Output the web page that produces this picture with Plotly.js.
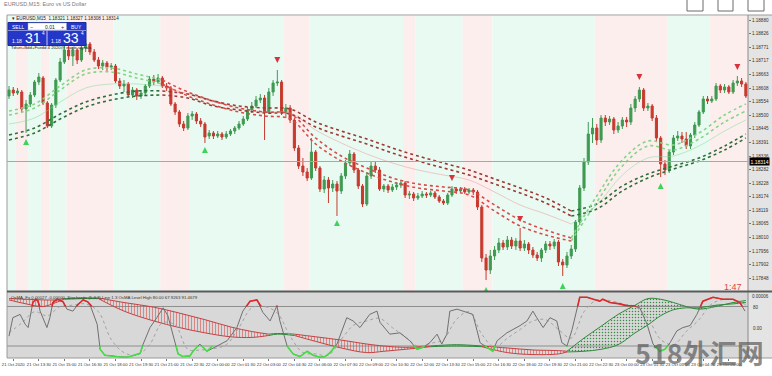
<!DOCTYPE html>
<html><head><meta charset="utf-8">
<script src="https://cdn.plot.ly/plotly-3.0.1.min.js"></script>
<style>html,body{margin:0;padding:0;background:#fff;}#chart{width:772px;height:376px;}</style>
</head><body><div id="chart"></div>
<script>
// ---------- candles (EURUSD M15), bar index 0..173 ----------
const openP = [1.18576,1.18600,1.18588,1.18592,1.18524,1.18544,1.18580,1.18632,1.18648,1.18548,
1.18456,1.18540,1.18640,1.18712,1.18760,1.18736,1.18760,1.18720,1.18768,1.18784,
1.18752,1.18720,1.18696,1.18708,1.18692,1.18696,1.18636,1.18616,1.18624,1.18580,
1.18600,1.18576,1.18588,1.18616,1.18644,1.18632,1.18648,1.18616,1.18608,1.18544,
1.18512,1.18464,1.18448,1.18496,1.18504,1.18476,1.18464,1.18416,1.18428,1.18416,
1.18424,1.18412,1.18424,1.18436,1.18448,1.18464,1.18484,1.18520,1.18536,1.18560,
1.18568,1.18512,1.18592,1.18628,1.18632,1.18512,1.18528,1.18480,1.18368,1.18296,
1.18272,1.18248,1.18352,1.18288,1.18204,1.18240,1.18208,1.18224,1.18196,1.18256,
1.18308,1.18344,1.18280,1.18216,1.18144,1.18256,1.18296,1.18280,1.18204,1.18216,
1.18200,1.18212,1.18220,1.18228,1.18180,1.18184,1.18168,1.18176,1.18184,1.18180,
1.18188,1.18172,1.18156,1.18148,1.18180,1.18204,1.18196,1.18204,1.18192,1.18200,
1.18192,1.18132,1.17928,1.17880,1.17936,1.17960,1.17988,1.17972,1.18000,1.17976,
1.17996,1.17968,1.17984,1.17960,1.17940,1.17928,1.17960,1.17984,1.17976,1.17992,
1.17912,1.17900,1.17936,1.17964,1.18072,1.18208,1.18312,1.18424,1.18448,1.18400,
1.18488,1.18472,1.18484,1.18440,1.18456,1.18480,1.18472,1.18528,1.18564,1.18600,
1.18528,1.18536,1.18488,1.18408,1.18304,1.18280,1.18352,1.18408,1.18416,1.18404,
1.18376,1.18420,1.18460,1.18512,1.18564,1.18556,1.18564,1.18616,1.18600,1.18612,
1.18592,1.18628,1.18636,1.18624];
const closeP = [1.18600,1.18588,1.18596,1.18524,1.18544,1.18580,1.18632,1.18652,1.18548,1.18456,
1.18540,1.18640,1.18712,1.18760,1.18736,1.18760,1.18720,1.18768,1.18784,1.18752,
1.18720,1.18696,1.18708,1.18692,1.18696,1.18636,1.18616,1.18624,1.18580,1.18600,
1.18576,1.18588,1.18616,1.18644,1.18632,1.18648,1.18616,1.18608,1.18544,1.18512,
1.18464,1.18448,1.18496,1.18504,1.18476,1.18464,1.18412,1.18428,1.18416,1.18424,
1.18412,1.18424,1.18436,1.18448,1.18464,1.18484,1.18520,1.18536,1.18560,1.18568,
1.18512,1.18592,1.18628,1.18632,1.18512,1.18528,1.18480,1.18368,1.18296,1.18272,
1.18248,1.18352,1.18288,1.18204,1.18240,1.18208,1.18224,1.18196,1.18256,1.18308,
1.18344,1.18280,1.18216,1.18144,1.18256,1.18296,1.18280,1.18204,1.18216,1.18200,
1.18212,1.18220,1.18228,1.18180,1.18184,1.18168,1.18176,1.18184,1.18180,1.18188,
1.18172,1.18156,1.18148,1.18180,1.18204,1.18196,1.18204,1.18192,1.18200,1.18192,
1.18132,1.17928,1.17880,1.17936,1.17960,1.17988,1.17972,1.18000,1.17976,1.17996,
1.17968,1.17984,1.17960,1.17940,1.17928,1.17960,1.17984,1.17976,1.17992,1.17912,
1.17900,1.17936,1.17964,1.18072,1.18208,1.18312,1.18424,1.18448,1.18400,1.18488,
1.18472,1.18484,1.18440,1.18456,1.18480,1.18472,1.18528,1.18564,1.18600,1.18528,
1.18536,1.18488,1.18408,1.18304,1.18280,1.18352,1.18408,1.18416,1.18404,1.18376,
1.18420,1.18460,1.18512,1.18564,1.18556,1.18564,1.18616,1.18600,1.18612,1.18592,
1.18628,1.18636,1.18624,1.18576];
const highP = [1.18616,1.18612,1.18608,1.18600,1.18560,1.18592,1.18640,1.18668,1.18656,1.18556,
1.18548,1.18648,1.18728,1.18776,1.18776,1.18772,1.18768,1.18780,1.18800,1.18792,
1.18764,1.18732,1.18720,1.18716,1.18708,1.18704,1.18648,1.18640,1.18632,1.18612,
1.18608,1.18600,1.18624,1.18656,1.18660,1.18664,1.18656,1.18628,1.18616,1.18552,
1.18520,1.18476,1.18508,1.18516,1.18512,1.18488,1.18472,1.18440,1.18436,1.18436,
1.18432,1.18436,1.18444,1.18456,1.18476,1.18496,1.18532,1.18552,1.18576,1.18584,
1.18580,1.18608,1.18640,1.18680,1.18640,1.18544,1.18540,1.18488,1.18380,1.18328,
1.18288,1.18408,1.18360,1.18296,1.18256,1.18252,1.18240,1.18236,1.18268,1.18320,
1.18360,1.18352,1.18288,1.18224,1.18272,1.18312,1.18312,1.18292,1.18224,1.18224,
1.18224,1.18232,1.18240,1.18236,1.18196,1.18192,1.18188,1.18196,1.18192,1.18196,
1.18196,1.18180,1.18164,1.18188,1.18216,1.18212,1.18212,1.18212,1.18208,1.18208,
1.18200,1.18140,1.17944,1.17960,1.17976,1.18008,1.18000,1.18016,1.18012,1.18008,
1.18048,1.18000,1.17992,1.17972,1.17952,1.17968,1.17996,1.17996,1.18004,1.18000,
1.17924,1.17952,1.17980,1.18080,1.18220,1.18328,1.18472,1.18488,1.18464,1.18500,
1.18500,1.18496,1.18492,1.18472,1.18492,1.18492,1.18544,1.18576,1.18612,1.18608,
1.18548,1.18544,1.18500,1.18416,1.18320,1.18360,1.18420,1.18436,1.18432,1.18432,
1.18428,1.18472,1.18520,1.18576,1.18576,1.18576,1.18628,1.18624,1.18624,1.18620,
1.18640,1.18656,1.18648,1.18632];
const lowP = [1.18564,1.18576,1.18580,1.18512,1.18428,1.18532,1.18572,1.18620,1.18540,1.18448,
1.18448,1.18528,1.18632,1.18704,1.18720,1.18696,1.18704,1.18712,1.18752,1.18740,
1.18712,1.18684,1.18680,1.18676,1.18680,1.18628,1.18604,1.18592,1.18572,1.18568,
1.18560,1.18564,1.18576,1.18608,1.18620,1.18624,1.18608,1.18596,1.18536,1.18500,
1.18452,1.18436,1.18440,1.18480,1.18464,1.18452,1.18388,1.18404,1.18404,1.18408,
1.18400,1.18404,1.18416,1.18424,1.18440,1.18456,1.18476,1.18508,1.18528,1.18548,
1.18400,1.18504,1.18576,1.18616,1.18500,1.18488,1.18468,1.18356,1.18284,1.18256,
1.18236,1.18240,1.18276,1.18192,1.18188,1.18148,1.18192,1.18096,1.18184,1.18244,
1.18296,1.18268,1.18204,1.18132,1.18136,1.18244,1.18268,1.18196,1.18192,1.18188,
1.18192,1.18200,1.18208,1.18168,1.18164,1.18156,1.18160,1.18168,1.18168,1.18172,
1.18164,1.18148,1.18140,1.18140,1.18172,1.18184,1.18188,1.18184,1.18184,1.18180,
1.18120,1.17912,1.17840,1.17864,1.17920,1.17948,1.17960,1.17960,1.17964,1.17960,
1.17956,1.17956,1.17944,1.17928,1.17916,1.17912,1.17948,1.17960,1.17964,1.17896,
1.17856,1.17888,1.17924,1.17952,1.18060,1.18196,1.18300,1.18388,1.18380,1.18388,
1.18456,1.18460,1.18424,1.18428,1.18444,1.18452,1.18460,1.18512,1.18552,1.18516,
1.18516,1.18476,1.18396,1.18252,1.18260,1.18268,1.18340,1.18396,1.18388,1.18364,
1.18364,1.18408,1.18452,1.18504,1.18544,1.18548,1.18556,1.18588,1.18588,1.18584,
1.18584,1.18616,1.18612,1.18568];

// ---------- signal arrows ----------
const buyBars = [4, 46, 77, 112, 130, 153];
const buyPrice = [1.18404, 1.18372, 1.18080, 1.17812, 1.17828, 1.18228];
const sellBars = [63, 104, 120, 148, 171];
const sellPrice = [1.18708, 1.18236, 1.18072, 1.18640, 1.18680];

// ---------- moving average ribbons (read every 6 bars) ----------
const maBars = [0,6,12,18,24,30,36,42,48,54,60,66,72,78,84,90,96,102,108,114,120,126,132,138,144,150,156,162,168,173];
const slowA = [1.18420,1.18448,1.18504,1.18552,1.18580,1.18596,1.18596,1.18584,1.18556,1.18536,1.18528,1.18524,1.18472,1.18436,1.18404,1.18368,1.18336,1.18308,1.18280,1.18244,1.18208,1.18168,1.18116,1.18144,1.18216,1.18264,1.18296,1.18328,1.18376,1.18424];
const slowB = [1.18400,1.18428,1.18484,1.18532,1.18560,1.18576,1.18580,1.18568,1.18536,1.18520,1.18508,1.18504,1.18452,1.18416,1.18384,1.18348,1.18316,1.18288,1.18260,1.18224,1.18188,1.18148,1.18096,1.18124,1.18196,1.18248,1.18284,1.18316,1.18360,1.18408];
const fastA = [1.18516,1.18544,1.18616,1.18680,1.18688,1.18664,1.18640,1.18592,1.18556,1.18528,1.18512,1.18504,1.18408,1.18336,1.18288,1.18248,1.18224,1.18212,1.18200,1.18140,1.18080,1.18040,1.18008,1.18176,1.18320,1.18396,1.18380,1.18428,1.18500,1.18544];
const fastB = [1.18500,1.18528,1.18600,1.18664,1.18672,1.18648,1.18624,1.18576,1.18540,1.18512,1.18496,1.18484,1.18384,1.18316,1.18268,1.18232,1.18208,1.18196,1.18180,1.18116,1.18056,1.18020,1.17996,1.18152,1.18296,1.18376,1.18360,1.18404,1.18472,1.18516];
const faintMA = [1.18464,1.18488,1.18552,1.18608,1.18624,1.18624,1.18616,1.18584,1.18552,1.18528,1.18512,1.18508,1.18440,1.18388,1.18344,1.18308,1.18280,1.18260,1.18240,1.18192,1.18140,1.18104,1.18064,1.18140,1.18260,1.18328,1.18336,1.18376,1.18436,1.18480];
const maTrend = [1,1,1,1,1,1,-1,-1,-1,-1,-1,-1,-1,-1,-1,-1,-1,-1,-1,-1,-1,-1,1,1,1,1,1,1,1,1];

// ---------- background trend bands (start bar, kind) ----------
const bandStart = [0,2,5,8,10,14,25,36,43,65,71,93,96,107,114,138,155,165];
const bandKind  = [1,-1,1,-1,1,-1,1,-1,1,-1,1,-1,1,-1,1,-1,1,-1];

// ---------- lower panel: stochastic ----------
const stochBars = [0,0.9,2.6,3.8,4.5,5.6,6.3,6.8,7.3,8.9,9.6,10.3,11.3,12.7,13.6,15,16.2,17.4,18.5,19,
20.7,21.4,22.5,24.9,27.2,28.4,29.6,30.8,31.5,33.1,34.7,36.2,37.3,38.5,39.7,40.8,42.5,43.2,44.8,46.5,
48.8,51.2,53.5,54.9,56.6,58.2,59.6,61.3,62.9,63.6,65.3,66.7,68.3,70,71.4,73,74.2,75.4,77,79.3,
80.8,82.4,84.7,86.4,87.1,89.4,91.8,94.1,95.8,97.2,98.8,100.5,101.6,102.8,103.5,105.2,107.5,108.9,109.9,110.6,
112.2,113.6,114.6,116.9,118.3,120,121.6,123,123.9,125.4,127,128.6,129.8,131,132.2,133.3,134,135.7,137.1,138.7,
139.4,141.1,143.4,145.1,146.5,148.1,149.8,151.2,152.8,154,155.2,156.8,158.2,159.9,161.5,162.9,165.3,167.6,170,171.6,172.8];
const stochMain = [35,63,68,53,48,86,91,88,73,48,63,86,91,87,76,73,83,90,87,83,
53,15,6,4,3,4,6,9,23,48,63,78,66,38,8,4,5,12,23,12,
20,28,48,73,88,90,71,58,81,58,20,8,4,12,6,3,4,10,23,63,
58,48,68,73,56,38,40,28,15,18,25,38,23,38,73,76,71,68,43,25,
18,12,28,40,45,51,58,73,63,48,63,58,25,20,45,78,94,94,91,88,
91,86,84,81,81,78,53,23,12,15,25,43,48,51,68,88,94,91,91,86,73];
const sigBars = [0,3,6,9,12,15,18,21,24,27,30,33,36,39,42,45,48,51,54,57,60,63,66,69,72,75,78,81,84,87,90,93,96,99,102,105,108,111,114,117,120,123,126,129,132,135,138,141,144,147,150,153,156,159,162,165,168,171,173];
const stochSig = [40,55,72,66,80,82,84,72,30,10,6,22,55,52,15,14,16,22,48,78,80,70,35,10,8,6,30,52,58,62,48,34,20,24,30,60,72,38,18,32,45,58,60,45,32,72,90,89,84,80,62,30,22,42,60,84,91,89,82];
const levels = [80, 20];

// ---------- lower panel: OsMA cloud ----------
const cloudBars = [0,4,8,11,13,18,21,27,34,40,46,52,57,61,63,67,72,78,84,88,93,99,105,111,117,123,129,131,135,139,143,147,150,153,156,159,162,166,170,173];
const cloudU = [92,91,90,90,92,93,93,86,79,70,60,49,42,38,39,38,34,29,23,20,18,20,22,20,17,14,13,12,32,50,68,82,92,91,86,80,76,80,86,89];
const cloudL = [90,84,80,86,91,92,92,73,58,48,40,34,33,36,38,36,27,17,10,12,15,19,20,19,10,7,8,11,12,15,22,40,52,66,75,78,78,82,84,86];
const cloudState = [-1,-1,-1,-1,1,1,-1,-1,-1,-1,-1,-1,-1,1,1,-1,-1,-1,-1,-1,-1,1,1,-1,-1,-1,-1,1,1,1,1,1,1,1,1,1,1,1,1,1];

// ---------- axes text ----------
const priceTicks = [1.18880,1.18826,1.18771,1.18717,1.18663,1.18608,1.18554,1.18500,1.18445,1.18391,1.18336,1.18282,1.18228,1.18174,1.18119,1.18065,1.18010,1.17956,1.17902,1.17848];
const bidPrice = 1.18314;
const timeTickBars = [1,7,13,19,25,31,37,43,49,55,61,67,73,79,85,91,97,103,109,115,121,127,133,139,145,151,157,163,169];
const timeTickText = ["21 Oct 2020","21 Oct 13:30","21 Oct 15:00","21 Oct 16:30","21 Oct 18:00","21 Oct 19:30","21 Oct 21:00","21 Oct 22:30","22 Oct 00:00","22 Oct 01:30","22 Oct 03:00","22 Oct 04:30","22 Oct 06:00","22 Oct 07:30","22 Oct 09:00","22 Oct 10:30","22 Oct 12:00","22 Oct 13:30","22 Oct 15:00","22 Oct 16:30","22 Oct 18:00","22 Oct 19:30","22 Oct 21:00","22 Oct 22:30","23 Oct 00:00","23 Oct 01:30","23 Oct 03:00","23 Oct 04:30","23 Oct 06:00"];

// ================= build =================
const W = 772, H = 376;
const px = x => x / W, py = y => 1 - y / H;
const MAIN_TOP = 16, MAIN_BOT = 291, PAN_TOP = 292, PAN_BOT = 358, XL = 7, XR = 748;
const pr0 = 1.8, pr1 = 102;
const d0 = py(PAN_BOT), d1 = py(PAN_TOP);
const frac = v => d0 + (v - pr0) / (pr1 - pr0) * (d1 - d0);

function runs(states) {
  const out = []; let a = 0;
  for (let i = 1; i < states.length - 1; i++) {
    if (states[i] !== states[a]) { out.push([a, i, states[a]]); a = i; }
  }
  out.push([a, states.length - 1, states[a]]);
  return out;
}

const traces = [];
// faint MA
runs(maTrend).forEach(([a, b, s]) => {
  traces.push({type:'scatter', mode:'lines', x: maBars.slice(a, b + 1), y: faintMA.slice(a, b + 1),
    line:{color: s > 0 ? 'rgba(130,215,150,0.5)' : 'rgba(235,150,150,0.5)', width:1, shape:'spline'}, hoverinfo:'skip', xaxis:'x', yaxis:'y'});
});
// MA ribbons
[[slowA,'slow'],[slowB,'slow'],[fastA,'fast'],[fastB,'fast']].forEach(([arr, kind]) => {
  runs(maTrend).forEach(([a, b, s]) => {
    let col;
    if (kind === 'slow') col = s > 0 ? '#2f6e3a' : '#9a3b33';
    else col = s > 0 ? '#86d486' : '#d84a4a';
    traces.push({type:'scatter', mode:'lines', x: maBars.slice(a, b + 1), y: arr.slice(a, b + 1),
      line:{color: col, width:1.6, dash:'dot', shape:'spline'}, hoverinfo:'skip', xaxis:'x', yaxis:'y'});
  });
});
// candles
traces.push({type:'candlestick', x: openP.map((_, i) => i), open: openP, high: highP, low: lowP, close: closeP,
  increasing:{line:{color:'#3f9a52', width:1}, fillcolor:'#3f9a52'},
  decreasing:{line:{color:'#c63a2e', width:1}, fillcolor:'#c63a2e'},
  whiskerwidth:0, hoverinfo:'skip', xaxis:'x', yaxis:'y'});
// arrows
traces.push({type:'scatter', mode:'markers', x: buyBars, y: buyPrice,
  marker:{symbol:'arrow-up', size:6, color:'#3fd35a', line:{width:0}}, hoverinfo:'skip', xaxis:'x', yaxis:'y'});
traces.push({type:'scatter', mode:'markers', x: sellBars, y: sellPrice,
  marker:{symbol:'arrow-down', size:6, color:'#d8323a', line:{width:0}}, hoverinfo:'skip', xaxis:'x', yaxis:'y'});

// OsMA cloud
runs(cloudState).forEach(([a, b, s]) => {
  const xs = cloudBars.slice(a, b + 1);
  const lc = s > 0 ? '#2f8a3c' : '#c84040';
  traces.push({type:'scatter', mode:'lines', x: xs, y: cloudL.slice(a, b + 1),
    line:{color: lc, width:1, shape:'spline'}, hoverinfo:'skip', xaxis:'x', yaxis:'y2'});
  traces.push({type:'scatter', mode:'lines', x: xs, y: cloudU.slice(a, b + 1),
    line:{color: lc, width:1, shape:'spline'}, fill:'tonexty', fillcolor:'rgba(0,0,0,0)',
    fillpattern:{shape: s > 0 ? '.' : '|', fgcolor: s > 0 ? '#3a8a46' : '#d85050', bgcolor:'rgba(0,0,0,0)', size:3, solidity:0.2},
    hoverinfo:'skip', xaxis:'x', yaxis:'y2'});
});
// stochastic
traces.push({type:'scatter', mode:'lines', x: sigBars, y: stochSig,
  line:{color:'#a2a2a2', width:1, dash:'dot', shape:'spline'}, hoverinfo:'skip', xaxis:'x', yaxis:'y2'});
traces.push({type:'scatter', mode:'lines', x: stochBars, y: stochMain,
  line:{color:'#707070', width:1}, hoverinfo:'skip', xaxis:'x', yaxis:'y2'});
traces.push({type:'scatter', mode:'lines', x: stochBars, y: stochMain,
  line:{color:'#e02828', width:1.6}, hoverinfo:'skip', xaxis:'x', yaxis:'y3'});
traces.push({type:'scatter', mode:'lines', x: stochBars, y: stochMain,
  line:{color:'#44dd44', width:1.6}, hoverinfo:'skip', xaxis:'x', yaxis:'y4'});

// shapes
const shapes = [];
bandStart.forEach((s, k) => {
  const e = k + 1 < bandStart.length ? bandStart[k + 1] : 175;
  shapes.push({type:'rect', xref:'x', yref:'y domain', x0: s - 0.5, x1: e - 0.5, y0:0, y1:1,
    fillcolor: bandKind[k] > 0 ? '#e9faf2' : '#fdeeee', line:{width:0}, layer:'below'});
});
shapes.push({type:'rect', xref:'x domain', yref:'y2 domain', x0:0, x1:1, y0:0, y1:1, fillcolor:'#d8d8d8', line:{width:0}, layer:'below'});
levels.forEach(v => shapes.push({type:'line', xref:'x domain', yref:'y2', x0:0, x1:1, y0:v, y1:v, line:{color:'#8e8e8e', width:1}, layer:'below'}));
shapes.push({type:'rect', xref:'paper', yref:'paper', x0:px(XR), x1:1, y0:py(PAN_BOT), y1:py(15), fillcolor:'#e4e4e4', line:{width:0}, layer:'below'});
shapes.push({type:'line', xref:'paper', yref:'paper', x0:px(XL), x1:1, y0:py(15), y1:py(15), line:{color:'#9a9a9a', width:1}});
shapes.push({type:'line', xref:'paper', yref:'paper', x0:px(XL), x1:px(XL), y0:py(PAN_BOT), y1:py(15), line:{color:'#9a9a9a', width:1}});
shapes.push({type:'line', xref:'paper', yref:'paper', x0:px(XR), x1:px(XR), y0:py(PAN_BOT), y1:py(15), line:{color:'#8a8a8a', width:1}});
shapes.push({type:'line', xref:'paper', yref:'paper', x0:px(XL), x1:1, y0:py(291.5), y1:py(291.5), line:{color:'#5a5a5a', width:2}});
shapes.push({type:'line', xref:'paper', yref:'paper', x0:px(XL), x1:1, y0:py(PAN_BOT), y1:py(PAN_BOT), line:{color:'#9a9a9a', width:1}});
shapes.push({type:'line', xref:'x domain', yref:'y', x0:0, x1:1, y0:bidPrice, y1:bidPrice, line:{color:'#a8a8a8', width:1}});
[[687,703],[718,733],[748,764]].forEach(([a, b]) => shapes.push({type:'rect', xref:'paper', yref:'paper', x0:px(a), x1:px(b), y0:py(11), y1:py(-2), line:{color:'#6a6a6a', width:1}, fillcolor:'#ffffff'}));
// one-click panel
shapes.push({type:'rect', xref:'paper', yref:'paper', x0:px(8), x1:px(86), y0:py(45.5), y1:py(22.5), fillcolor:'#2437c9', line:{color:'#1a2a9a', width:1}});
shapes.push({type:'rect', xref:'paper', yref:'paper', x0:px(28), x1:px(66.5), y0:py(30), y1:py(23), fillcolor:'#ffffff', line:{color:'#9aa0c8', width:0.5}});
shapes.push({type:'line', xref:'paper', yref:'paper', x0:px(47), x1:px(47), y0:py(45.5), y1:py(30.5), line:{color:'#c8ccf0', width:1}});
shapes.push({type:'line', xref:'paper', yref:'paper', x0:px(8), x1:px(86), y0:py(30.5), y1:py(30.5), line:{color:'#c8ccf0', width:0.6}});

// annotations
const ann = [];
function A(x, y, text, size, color, xa, extra) {
  ann.push(Object.assign({xref:'paper', yref:'paper', x:px(x), y:py(y), text:text, showarrow:false,
    xanchor: xa || 'left', yanchor:'middle', font:{size:size, color:color, family:'Liberation Sans, Arial, sans-serif'}}, extra || {}));
}
A(2, 4, 'EURUSD,M15: Euro vs US Dollar', 5.5, '#7a7a7a');
A(10, 19, '▾ EURUSD,M15  1.18321 1.18327 1.18308 1.18314', 4.6, '#222');
A(17.5, 26.6, 'SELL', 5, '#ffffff', 'center');
A(31.5, 26.6, '−', 5.5, '#333', 'center');
A(50, 26.6, '0.01', 5, '#222', 'center');
A(62.5, 26.6, '+', 5.5, '#333', 'center');
A(76.5, 26.6, 'BUY', 5, '#ffffff', 'center');
A(17, 40.5, '1.18', 5, '#ffffff', 'center');
A(32.5, 37.8, '31', 14, '#ffffff', 'center');
A(43.5, 33.5, '4', 4.5, '#ffffff', 'center');
A(55.5, 40.5, '1.18', 5, '#ffffff', 'center');
A(71, 37.8, '33', 14, '#ffffff', 'center');
A(82.5, 33.5, '4', 4.5, '#ffffff', 'center');
A(9, 48, 'Tdset+Bdd+Fsedd 4 2020@ eagle signals', 4.3, '#222');
A(9, 297, 'OsMA_Fx 0.00027 -0.00000  Stochastic (5,3,3) Line 1.3 OsMA Level High 80.00 67.9263 91.4679', 4.3, '#333');
A(733, 286.5, '1:47', 9, '#d04a4a', 'center');
A(750, 296, '0.00006', 4.5, '#333');
A(751, 307, '80', 4.5, '#333');
A(751, 328, '0.00', 4.5, '#333');
ann.push({xref:'paper', yref:'y', x:px(748.5), y:bidPrice, text:'1.18314', showarrow:false, xanchor:'left', yanchor:'middle',
  bgcolor:'#000000', font:{size:5, color:'#ffffff', family:'Liberation Sans, Arial'}, borderpad:0.5});
ann.push({xref:'paper', yref:'paper', x:px(699), y:py(352), text:'<b>518外汇网</b>', showarrow:false, xanchor:'center', yanchor:'middle',
  font:{size:27, color:'rgba(95,95,95,0.72)', family:'Noto Sans CJK SC'}});

const layout = {
  width: W, height: H, margin:{l:0, r:0, t:0, b:0}, paper_bgcolor:'#ffffff', plot_bgcolor:'rgba(0,0,0,0)',
  showlegend:false, dragmode:false,
  xaxis:{domain:[px(XL), px(XR)], range:[-0.47, 173.5], type:'linear', anchor:'y2', showgrid:false, zeroline:false,
    tickmode:'array', tickvals: timeTickBars, ticktext: timeTickText, tickangle:0, automargin:false,
    tickfont:{size:4.2, color:'#333', family:'Liberation Sans, Arial'},
    ticks:'outside', ticklen:2, tickcolor:'#777', rangeslider:{visible:false}, showline:false},
  yaxis:{domain:[py(MAIN_BOT), py(MAIN_TOP)], range:[1.17796, 1.18896], anchor:'x', side:'right', showgrid:false, zeroline:false,
    tickmode:'array', tickvals: priceTicks, ticktext: priceTicks.map(v => v.toFixed(5)), tickfont:{size:4.6, color:'#333', family:'Liberation Sans, Arial'},
    ticks:'outside', ticklen:2, tickcolor:'#777', showline:false, automargin:false},
  yaxis2:{domain:[d0, d1], range:[pr0, pr1], anchor:'x', visible:false},
  yaxis3:{domain:[frac(80), d1], range:[80, pr1], anchor:'x', visible:false},
  yaxis4:{domain:[d0, frac(20)], range:[pr0, 20], anchor:'x', visible:false},
  shapes: shapes, annotations: ann
};
Plotly.newPlot('chart', traces, layout, {staticPlot:true, displayModeBar:false});
</script>
</body></html>
